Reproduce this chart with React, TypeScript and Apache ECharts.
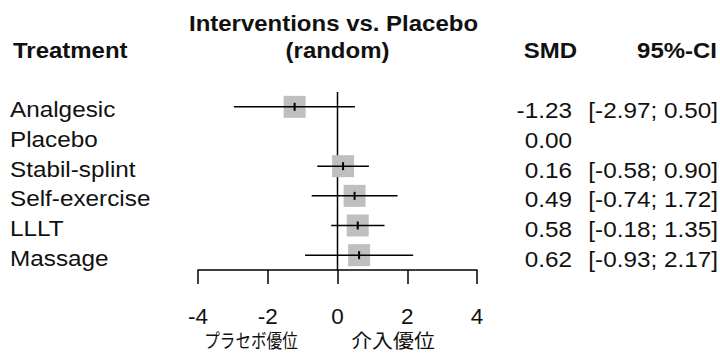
import React, { useEffect, useRef } from "react";
import * as echarts from "echarts";

const treatments = ["Analgesic", "Placebo", "Stabil-splint", "Self-exercise", "LLLT", "Massage"];
const smd: number[] = [-1.23, 0.0, 0.16, 0.49, 0.58, 0.62];
const ciLower: (number | null)[] = [-2.97, null, -0.58, -0.74, -0.18, -0.93];
const ciUpper: (number | null)[] = [0.5, null, 0.9, 1.72, 1.35, 2.17];
const xMin = -4;
const xMax = 4;
const xStep = 2;
const referenceValue = 0;
const titleLines = ["Interventions vs. Placebo", "(random)"];
const headers = { treatment: "Treatment", smd: "SMD", ci: "95%-CI" };
const favourLeft = "プラセボ優位";
const favourRight = "介入優位";

const FONT = "'Liberation Sans', Arial, sans-serif";
const TXT = "#111";

export default function App() {
  const ref = useRef<HTMLDivElement>(null);
  useEffect(() => {
    document.body.style.margin = "0";
    const chart = echarts.init(ref.current!, undefined, { renderer: "svg" });
    const data: any[] = [];
    treatments.forEach((t, i) => {
      if (ciLower[i] !== null) data.push([smd[i], i, ciLower[i], ciUpper[i]]);
    });

    chart.setOption({
      animation: false,
      grid: {
        left: 198,
        right: 243,
        top: 92,
        bottom: 88,
        containLabel: false,
      },
      xAxis: {
        type: "value",
        min: xMin,
        max: xMax,
        interval: xStep,
        axisLine: { show: true, onZero: false, lineStyle: { color: "#000", width: 1.5 } },
        axisTick: { show: true, inside: false, length: 14, lineStyle: { color: "#000", width: 1.5 } },
        axisLabel: { color: TXT, fontSize: 22.5, fontFamily: FONT, margin: 35 },
        splitLine: { show: false },
      },
      yAxis: {
        type: "category",
        data: treatments,
        inverse: true,
        axisLine: { show: false },
        axisTick: { show: false },
        axisLabel: { show: false },
        splitLine: { show: false },
      },
      series: [
        {
          type: "custom",
          encode: { x: 0, y: 1 },
          data,
          renderItem: (params: any, api: any) => {
            const est = api.value(0);
            const yi = api.value(1);
            const lo = api.value(2);
            const hi = api.value(3);
            const pc = api.coord([est, yi]);
            const p0 = api.coord([lo, yi]);
            const p1 = api.coord([hi, yi]);
            const s = 22;
            return {
              type: "group",
              children: [
                {
                  type: "rect",
                  shape: { x: pc[0] - s / 2, y: pc[1] - s / 2, width: s, height: s },
                  style: { fill: "#bfbfbf" },
                },
                {
                  type: "line",
                  shape: { x1: p0[0], y1: p0[1], x2: p1[0], y2: p1[1] },
                  style: { stroke: "#000", lineWidth: 1.5 },
                },
                {
                  type: "line",
                  shape: { x1: pc[0], y1: pc[1] - 4, x2: pc[0], y2: pc[1] + 4 },
                  style: { stroke: "#000", lineWidth: 2 },
                },
              ],
            };
          },
          z: 2,
        },
      ],
    });

    const rowY = treatments.map((t, i) => chart.convertToPixel({ yAxisIndex: 0 }, i) as number);
    const zeroX = chart.convertToPixel({ xAxisIndex: 0 }, referenceValue) as number;
    const gridRect = { top: 92, bottom: 358 - 88 };
    const regular = (text: string, x: number, y: number, align: string) => ({
      type: "text",
      x,
      y,
      scaleX: 1.13,
      style: {
        text,
        fill: TXT,
        font: `21.5px ${FONT}`,
        textAlign: align,
        textVerticalAlign: "middle",
      },
    });
    const bold = (text: string, x: number, y: number, align: string) => ({
      type: "text",
      x,
      y,
      scaleX: 1.09,
      style: {
        text,
        fill: TXT,
        font: `bold 22px ${FONT}`,
        textAlign: align,
        textVerticalAlign: "middle",
      },
    });
    const els: any[] = [];
    els.push({
      type: "line",
      shape: { x1: zeroX, y1: gridRect.top, x2: zeroX, y2: gridRect.bottom },
      style: { stroke: "#000", lineWidth: 1.5 },
      z: 1,
    });
    els.push(bold(titleLines[0], zeroX - 4, 23, "center"));
    els.push(bold(titleLines[1], zeroX, 50, "center"));
    els.push(bold(headers.treatment, 13, 50, "left"));
    els.push(bold(headers.smd, 577, 50, "right"));
    els.push(bold(headers.ci, 717, 50, "right"));
    treatments.forEach((t, i) => {
      els.push(regular(t, 10, rowY[i] + 3, "left"));
      els.push(regular(smd[i].toFixed(2), 572, rowY[i] + 4, "right"));
      if (ciLower[i] !== null && ciUpper[i] !== null) {
        els.push(
          regular(`[${(ciLower[i] as number).toFixed(2)}; ${(ciUpper[i] as number).toFixed(2)}]`, 718, rowY[i] + 4, "right")
        );
      }
    });
    els.push({
      type: "text",
      x: 251,
      y: 340,
      scaleX: 0.82,
      style: { text: favourLeft, fill: TXT, font: `19px 'Noto Sans CJK JP', sans-serif`, textAlign: "center", textVerticalAlign: "middle" },
    });
    els.push({
      type: "text",
      x: 393,
      y: 340,
      scaleX: 1.1,
      style: { text: favourRight, fill: TXT, font: `19px 'Noto Sans CJK JP', sans-serif`, textAlign: "center", textVerticalAlign: "middle" },
    });
    chart.setOption({ graphic: { elements: els } });

    return () => chart.dispose();
  }, []);
  return (
    <div
      ref={ref}
      style={{ position: "fixed", left: 0, top: 0, width: 720, height: 358, background: "#fff" }}
    />
  );
}
